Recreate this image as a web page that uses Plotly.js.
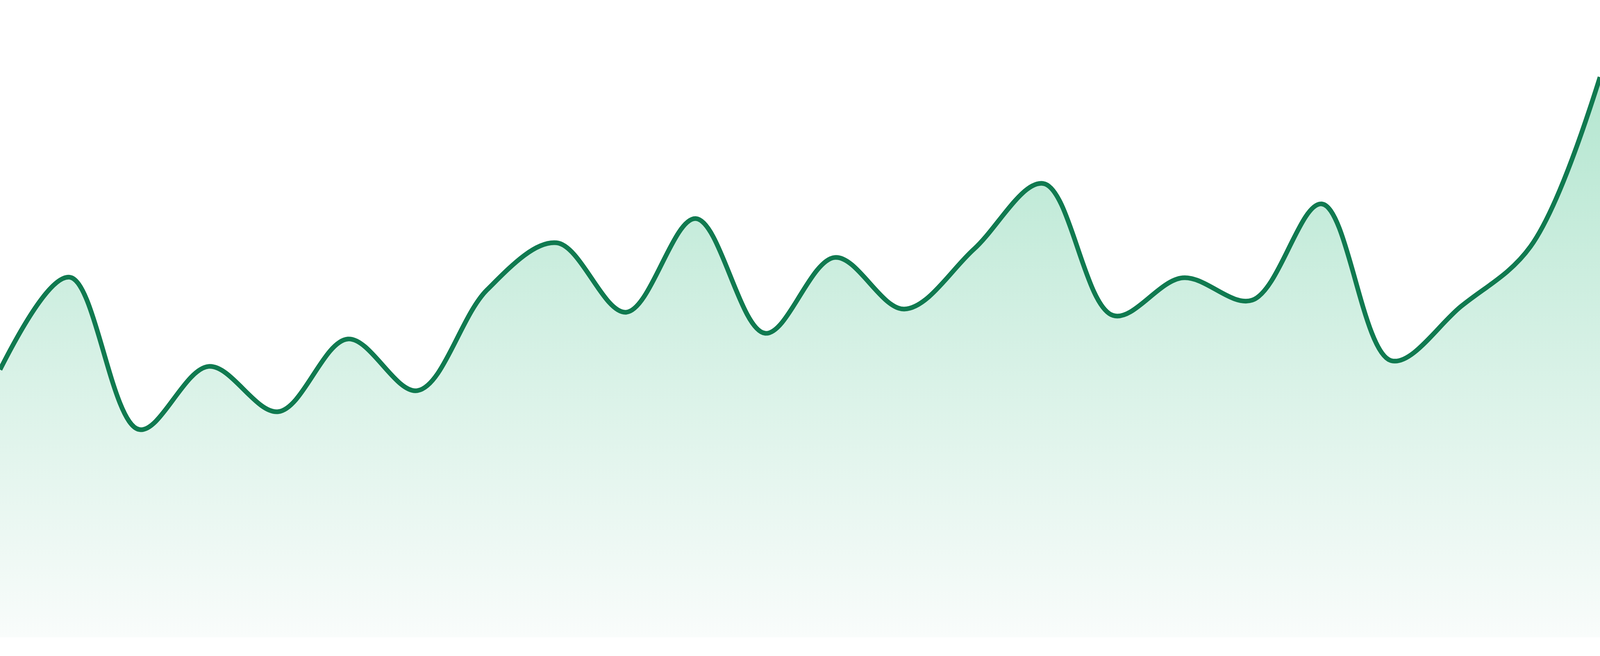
<!DOCTYPE html>
<html>
<head>
<meta charset="utf-8">
<script src="https://cdn.plot.ly/plotly-3.0.1.min.js"></script>
<style>
  html, body { margin: 0; padding: 0; background: #ffffff; overflow: hidden; }
  #chart { width: 100vw; height: 100vh; }
</style>
</head>
<body>
<div id="chart"></div>
<script>
// Data (24 evenly spaced samples)
const periods = [0,1,2,3,4,5,6,7,8,9,10,11,12,13,14,15,16,17,18,19,20,21,22,23];
const values = [42.0, 56.5, 32.6, 42.5, 35.4, 46.8, 38.7, 54.5, 61.9, 51.0, 65.7, 47.7,
                59.6, 51.5, 60.9, 71.2, 50.5, 56.4, 52.9, 68.0, 43.4, 51.9, 61.3, 87.9];
const yMin = 0;
const yMax = 100;

// Fit the chart to whatever viewport the page gets (reference is 4800x1680)
const W = window.innerWidth || 4800;
const H = window.innerHeight || 1680;
const s = W / 4800;

const trace = {
  x: periods,
  y: values,
  type: 'scatter',
  mode: 'lines',
  line: { color: '#107a50', width: 14 * s, shape: 'spline', smoothing: 1 },
  fill: 'tozeroy',
  fillgradient: {
    type: 'vertical',
    start: yMin,
    stop: Math.max(...values),
    colorscale: [[0, 'rgb(249,252,251)'], [1, 'rgb(180,230,208)']]
  },
  hoverinfo: 'none',
  cliponaxis: true
};

const layout = {
  width: W,
  height: H,
  margin: { l: 0, r: 0, t: 0, b: Math.round(48 * H / 1680), pad: 0 },
  paper_bgcolor: '#ffffff',
  plot_bgcolor: '#ffffff',
  showlegend: false,
  xaxis: { range: [periods[0], periods[periods.length - 1]], showgrid: false, zeroline: false,
           showticklabels: false, showline: false, ticks: '', fixedrange: true },
  yaxis: { range: [yMin, yMax], showgrid: false, zeroline: false,
           showticklabels: false, showline: false, ticks: '', fixedrange: true }
};

Plotly.newPlot('chart', [trace], layout, { staticPlot: true, displayModeBar: false });
</script>
</body>
</html>
